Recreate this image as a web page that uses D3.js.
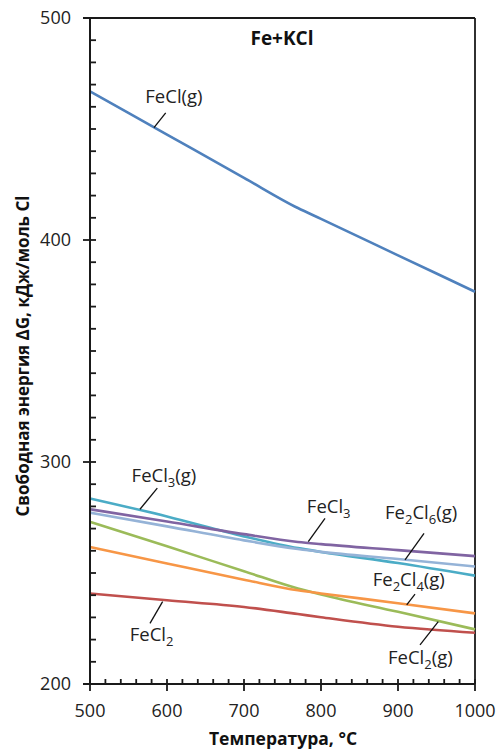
<!DOCTYPE html>
<html>
<head>
<meta charset="utf-8">
<script src="https://cdn.jsdelivr.net/npm/d3@7"></script>
<style>
  html, body { margin: 0; padding: 0; background: #fff; }
  svg { display: block; font-family: "Open Sans", "Liberation Sans", sans-serif; }
</style>
</head>
<body>
<svg id="chart" width="496" height="749"></svg>
<script>
// Temperatures (°C) at which each free-energy curve is tabulated
const temps = [500, 600, 700, 770, 800, 900, 1000];

// ΔG, kJ per mol Cl, for each species
const feclG    = [467.0, 447.5, 428.0, 414.4, 409.5, 393.1, 376.7];
const fecl3G   = [283.6, 275.5, 266.5, 261.2, 259.5, 254.5, 248.8];
const fecl3    = [278.7, 273.2, 267.5, 264.0, 263.0, 260.3, 257.6];
const fe2cl6G  = [277.2, 271.0, 264.7, 260.8, 259.5, 256.3, 252.9];
const fecl2G   = [273.0, 262.0, 250.8, 243.0, 240.3, 232.5, 224.6];
const fe2cl4G  = [261.7, 254.3, 247.0, 242.2, 240.8, 236.4, 231.8];
const fecl2    = [240.8, 237.7, 234.7, 231.5, 230.1, 225.8, 223.1];

const seriesNames  = ["FeCl(g)", "FeCl3(g)", "FeCl3", "Fe2Cl6(g)", "FeCl2(g)", "Fe2Cl4(g)", "FeCl2"];
const seriesValues = [feclG, fecl3G, fecl3, fe2cl6G, fecl2G, fe2cl4G, fecl2];
const seriesColors = ["#4f81bd", "#4bacc6", "#8064a2", "#95b3d7", "#9bbb59", "#f79646", "#c0504d"];

// Axis ticks
const xMajorTicks = [500, 600, 700, 800, 900, 1000];
const yMajorTicks = [200, 300, 400, 500];

// Curve labels: text pieces [text, isSubscript], anchor (°C, ΔG), leader line ends
const labelParts = [
  [["FeCl(g)", false]],
  [["FeCl", false], ["3", true], ["(g)", false]],
  [["FeCl", false], ["3", true]],
  [["Fe", false], ["2", true], ["Cl", false], ["6", true], ["(g)", false]],
  [["FeCl", false], ["2", true], ["(g)", false]],
  [["Fe", false], ["2", true], ["Cl", false], ["4", true], ["(g)", false]],
  [["FeCl", false], ["2", true]]
];
const labelAt = [
  [609, 461.5], [596, 291.2], [810, 277.0], [930, 274.3], [929, 209.0], [914, 244.0], [580, 219.2]
];
const leaderFrom = [
  [598.3, 457.3], [587.4, 288.2], [805.2, 274.6], [933.8, 267.9], [952.3, 228.1], [922.1, 240.5], [577.9, 227.3]
];
const leaderTo = [
  [583.1, 450.6], [564.9, 278.7], [783.5, 264.1], [909.1, 255.9], [928.6, 217.6], [911.3, 235.6], [594.3, 237.1]
];

const svg = d3.select("#chart");
const plotL = 90, plotR = 475, plotT = 18, plotB = 684;

const x = d3.scaleLinear().domain([500, 1000]).range([plotL, plotR]);
const y = d3.scaleLinear().domain([200, 500]).range([plotB, plotT]);

// Frame: top and right border
svg.append("line").attr("x1", plotL - 7).attr("x2", plotR).attr("y1", plotT).attr("y2", plotT)
  .attr("stroke", "#1a1a1a").attr("stroke-width", 1.8);
svg.append("line").attr("x1", plotR).attr("x2", plotR).attr("y1", plotT).attr("y2", plotB)
  .attr("stroke", "#1a1a1a").attr("stroke-width", 1.8);

// Series lines
const line = d3.line().x((d, i) => x(temps[i])).y(d => y(d)).curve(d3.curveMonotoneX);
seriesValues.forEach((vals, k) => {
  svg.append("path").datum(vals)
    .attr("d", line)
    .attr("fill", "none")
    .attr("stroke", seriesColors[k])
    .attr("stroke-width", 2.6)
    .attr("stroke-linejoin", "round");
});

// Y axis
const yAxisG = svg.append("g").attr("transform", `translate(${plotL},0)`);
yAxisG.append("line").attr("x1", 0).attr("x2", 0).attr("y1", plotT).attr("y2", plotB)
  .attr("stroke", "#1a1a1a").attr("stroke-width", 2);
d3.range(200, 501, 10).forEach(v => {
  const major = v % 100 === 0;
  yAxisG.append("line")
    .attr("x1", major ? -7 : 0).attr("x2", 6)
    .attr("y1", y(v)).attr("y2", y(v))
    .attr("stroke", "#1a1a1a").attr("stroke-width", 1.8);
});
yAxisG.selectAll("text.ytick").data(yMajorTicks).join("text")
  .attr("class", "ytick")
  .attr("x", -19).attr("y", d => y(d)).attr("dy", "0.35em")
  .attr("text-anchor", "end")
  .attr("font-size", 18).attr("fill", "#222")
  .text(d => d);

// X axis
const xAxisG = svg.append("g").attr("transform", `translate(0,${plotB})`);
xAxisG.append("line").attr("x1", plotL - 7).attr("x2", plotR).attr("y1", 0).attr("y2", 0)
  .attr("stroke", "#1a1a1a").attr("stroke-width", 2);
d3.range(500, 1001, 20).forEach(v => {
  const major = v % 100 === 0;
  xAxisG.append("line")
    .attr("x1", x(v)).attr("x2", x(v))
    .attr("y1", -5).attr("y2", major ? 7 : 0)
    .attr("stroke", "#1a1a1a").attr("stroke-width", 1.8);
});
xAxisG.selectAll("text.xtick").data(xMajorTicks).join("text")
  .attr("class", "xtick")
  .attr("x", d => x(d)).attr("y", 33)
  .attr("text-anchor", "middle")
  .attr("font-size", 18).attr("fill", "#222")
  .text(d => d);

// Axis titles
svg.append("text")
  .attr("x", 283).attr("y", 745)
  .attr("text-anchor", "middle").attr("font-weight", "bold")
  .attr("font-size", 17.5).attr("fill", "#111")
  .text("Температура, °C");

svg.append("text")
  .attr("transform", "translate(29,356) rotate(-90)")
  .attr("text-anchor", "middle").attr("font-weight", "bold")
  .attr("font-size", 17).attr("fill", "#111")
  .text("Свободная энергия ΔG, кДж/моль Cl");

// Chart title
svg.append("text")
  .attr("x", 282).attr("y", 45)
  .attr("text-anchor", "middle").attr("font-weight", "bold")
  .attr("font-size", 19).attr("fill", "#111")
  .text("Fe+KCl");

// Curve labels with leader lines
labelParts.forEach((parts, k) => {
  svg.append("line")
    .attr("x1", x(leaderFrom[k][0])).attr("y1", y(leaderFrom[k][1]))
    .attr("x2", x(leaderTo[k][0])).attr("y2", y(leaderTo[k][1]))
    .attr("stroke", "#111").attr("stroke-width", 1.3);
  const t = svg.append("text")
    .attr("x", x(labelAt[k][0])).attr("y", y(labelAt[k][1]))
    .attr("text-anchor", "middle")
    .attr("font-size", 18.5).attr("fill", "#222");
  let shifted = false;
  parts.forEach(([s, sub]) => {
    const ts = t.append("tspan").text(s);
    if (sub && !shifted) { ts.attr("dy", 5).attr("font-size", 13); shifted = true; }
    else if (sub) { ts.attr("font-size", 13); }
    else if (shifted) { ts.attr("dy", -5); shifted = false; }
  });
});
</script>
</body>
</html>
